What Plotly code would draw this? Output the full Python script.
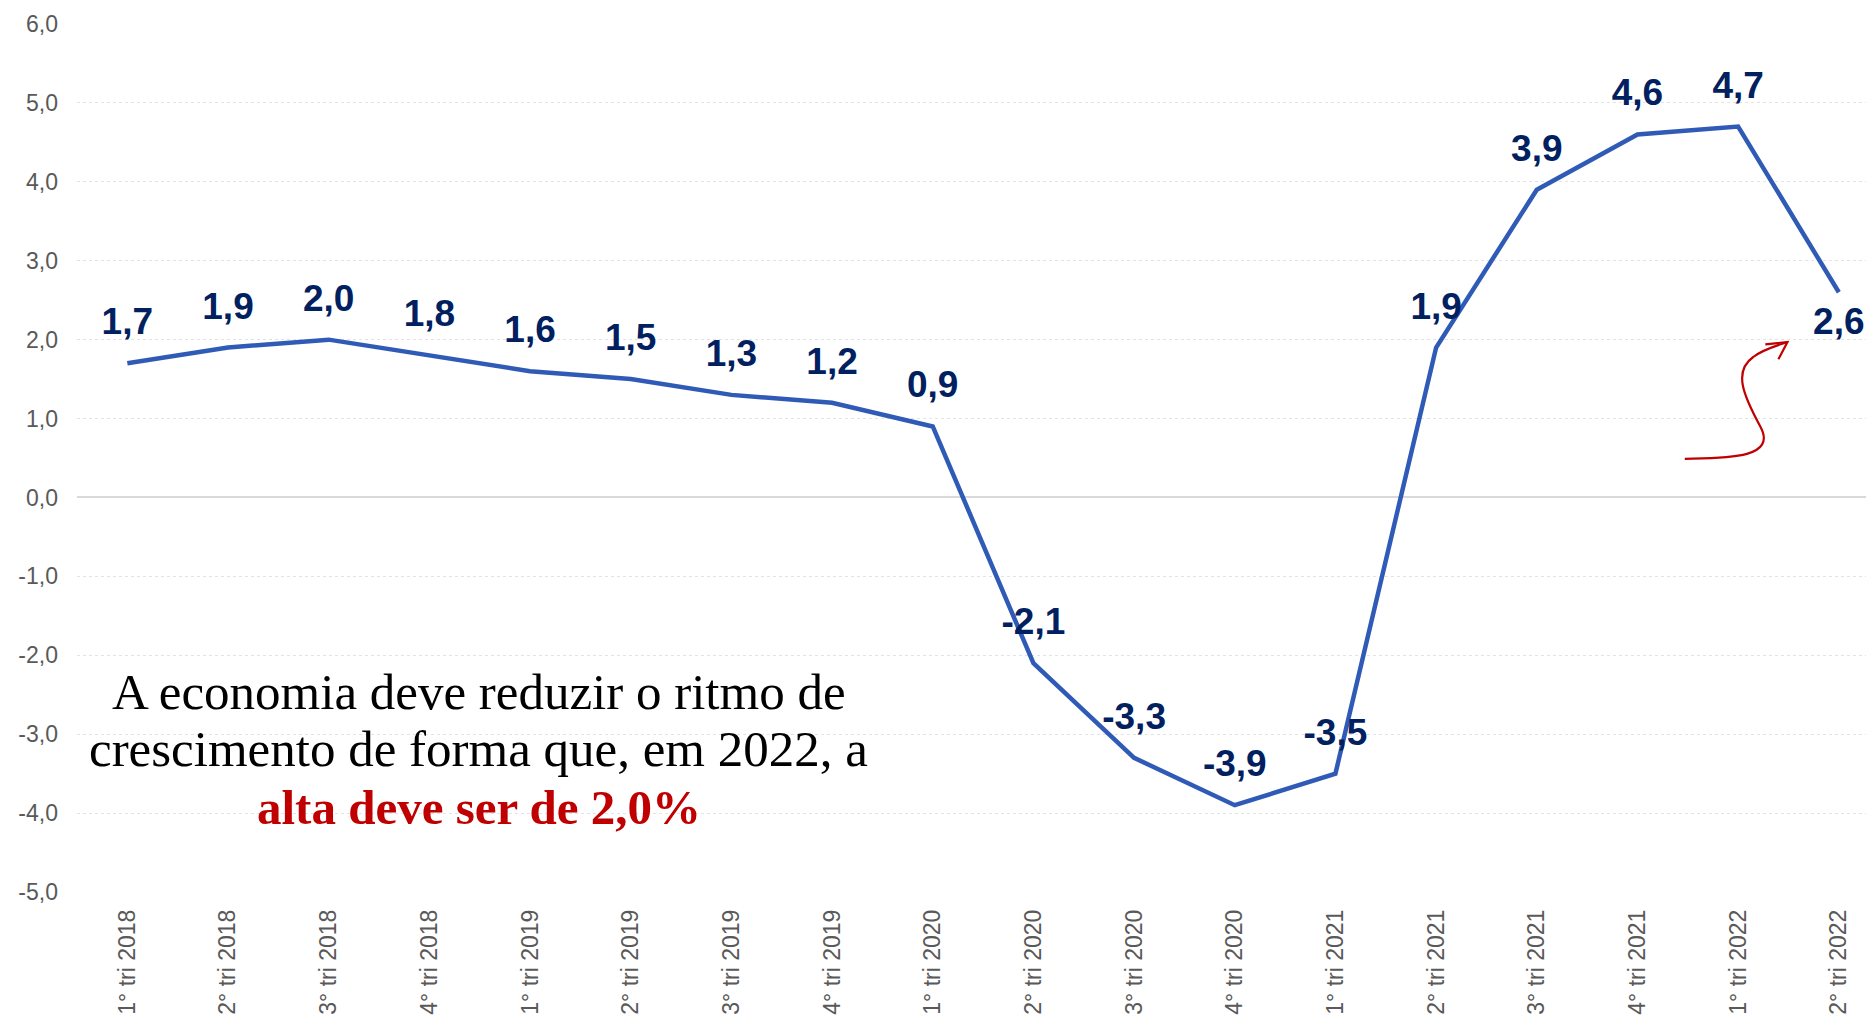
import plotly.graph_objects as go

categories = ["1° tri 2018", "2° tri 2018", "3° tri 2018", "4° tri 2018",
              "1° tri 2019", "2° tri 2019", "3° tri 2019", "4° tri 2019",
              "1° tri 2020", "2° tri 2020", "3° tri 2020", "4° tri 2020",
              "1° tri 2021", "2° tri 2021", "3° tri 2021", "4° tri 2021",
              "1° tri 2022", "2° tri 2022"]
values = [1.7, 1.9, 2.0, 1.8, 1.6, 1.5, 1.3, 1.2, 0.9, -2.1, -3.3, -3.9,
          -3.5, 1.9, 3.9, 4.6, 4.7, 2.6]
y_ticks = [-5, -4, -3, -2, -1, 0, 1, 2, 3, 4, 5, 6]

x_idx = list(range(len(categories)))
labels = [f"{v:.1f}".replace(".", ",") for v in values]
positions = ["top center"] * len(values)
positions[-1] = "bottom center"
msizes = [30] * len(values)
msizes[-1] = 20

fig = go.Figure()
fig.add_trace(go.Scatter(
    x=x_idx, y=values, mode="lines+markers+text",
    line=dict(color="#2F5BB7", width=4.5),
    marker=dict(size=msizes, color="rgba(0,0,0,0)", opacity=0,
                line=dict(width=0, color="rgba(0,0,0,0)")),
    text=labels, textposition=positions,
    textfont=dict(family="Arial, Liberation Sans", size=37, color="#002060", weight="bold"),
    cliponaxis=False, hoverinfo="skip", showlegend=False,
))

# curved red arrow (decoration)
arrow_path = "M 15.47,0.49 C 15.85,0.50 16.40,0.48 16.22,0.90 C 16.05,1.30 15.95,1.60 16.15,1.78 C 16.25,1.88 16.40,1.93 16.49,1.97"
fig.add_shape(type="path", path=arrow_path, xref="x", yref="y",
              line=dict(color="#C00000", width=2.2))
fig.add_shape(type="path", path="M 16.27,1.94 L 16.49,1.97 L 16.40,1.75",
              xref="x", yref="y", line=dict(color="#C00000", width=2.2))

serif = "Liberation Serif, Times New Roman, serif"
note_lines = [("A economia deve reduzir o ritmo de", "#000000", "normal", 51),
              ("crescimento de forma que, em 2022, a", "#000000", "normal", 51),
              ("alta deve ser de 2,0%", "#C00000", "bold", 49)]
note_y = [0.2306, 0.1646, 0.0974]
for (txt, col, w, sz), yy in zip(note_lines, note_y):
    fig.add_annotation(text=txt, xref="paper", yref="paper", x=0.2246, y=yy,
                       xanchor="center", yanchor="middle", showarrow=False,
                       font=dict(family=serif, size=sz, color=col, weight=w))

fig.update_layout(
    width=1866, height=1018,
    margin=dict(l=77, r=0, t=24, b=126, autoexpand=False),
    plot_bgcolor="white", paper_bgcolor="white",
    font=dict(family="Arial, Liberation Sans", color="#595959"),
    hovermode=False,
)
fig.update_xaxes(
    range=[-0.5, 17.27], tickvals=x_idx, ticktext=categories,
    tickangle=-90, tickfont=dict(size=23, color="#595959"),
    showgrid=False, zeroline=False, showline=False, ticks="",
    ticklabelstandoff=12,
)
fig.update_yaxes(
    range=[-5, 6], tickvals=y_ticks,
    ticktext=[f"{t:.1f}".replace(".", ",") for t in y_ticks],
    tickfont=dict(size=23, color="#595959"),
    showgrid=True, gridcolor="#E3E3E3", griddash="dot", gridwidth=1,
    zeroline=True, zerolinecolor="#D9D9D9", zerolinewidth=2,
    ticklabelstandoff=18, showline=False,
)

fig.write_html("out.html", config={"displayModeBar": False},
               post_script="document.body.style.margin='0';document.body.style.overflow='hidden';")
